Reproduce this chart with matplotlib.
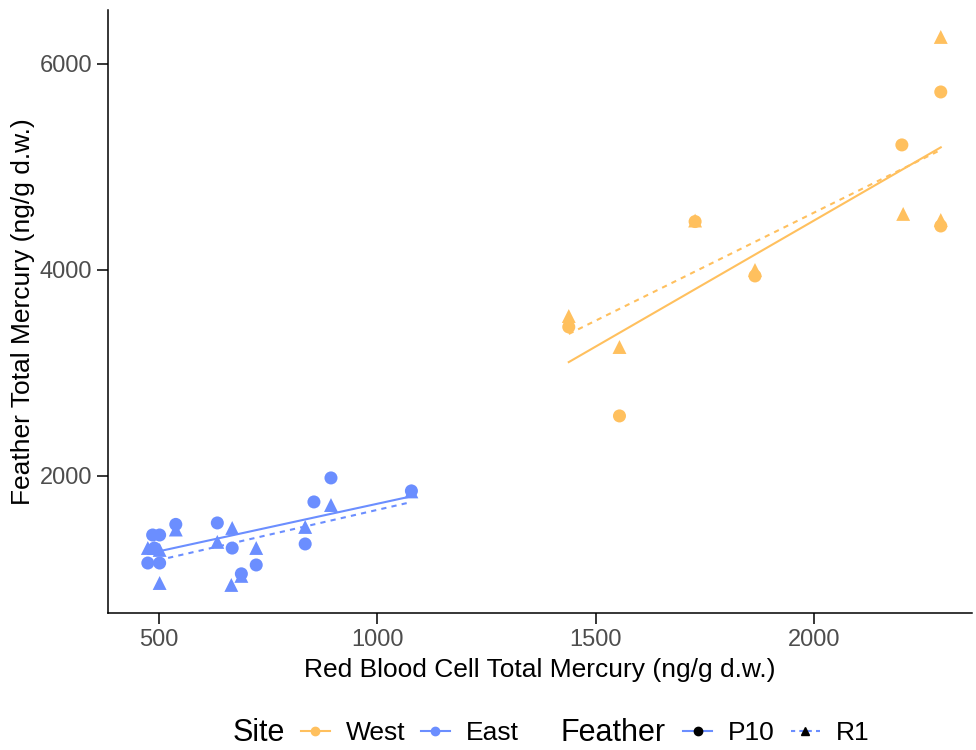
import numpy as np
import matplotlib.pyplot as plt
from matplotlib.lines import Line2D

plt.rcParams['font.family'] = ['Liberation Sans', 'DejaVu Sans']

# RBC total Hg (x) vs feather total Hg (y), by site and feather type
west_p10_x = [1438, 1554, 1727, 1864, 2200, 2289, 2289]
west_p10_y = [3447, 2583, 4470, 3942, 5214, 5728, 4427]
west_r1_x = [1438, 1554, 1727, 1864, 2203, 2289, 2289]
west_r1_y = [3553, 3252, 4480, 4000, 4544, 6262, 4485]

east_p10_x = [475, 486, 502, 502, 490, 539, 634, 668, 689, 723, 835, 855, 894, 1078]
east_p10_y = [1155, 1427, 1427, 1155, 1300, 1530, 1544, 1300, 1050, 1136, 1340, 1748, 1981, 1855]
east_r1_x = [475, 490, 502, 502, 539, 634, 668, 666, 689, 723, 835, 894, 1078]
east_r1_y = [1301, 1300, 1282, 961, 1480, 1360, 1495, 942, 1030, 1301, 1505, 1718, 1850]

west_col = '#FFC05E'
east_col = '#6B8EFF'

fig = plt.figure(figsize=(9.76, 7.5), dpi=100)
ax = fig.add_axes([0.1107, 0.1827, 0.885, 0.804])

groups = [
    (west_p10_x, west_p10_y, west_col, 'o', '-', 88),
    (west_r1_x, west_r1_y, west_col, '^', '--', 100),
    (east_p10_x, east_p10_y, east_col, 'o', '-', 88),
    (east_r1_x, east_r1_y, east_col, '^', '--', 100),
]

for gx, gy, col, mk, ls, s in groups:
    gx = np.array(gx); gy = np.array(gy)
    ax.scatter(gx, gy, s=s, marker=mk, color=col, edgecolors='none', zorder=3)
    b, a = np.polyfit(gx, gy, 1)
    xs = np.linspace(gx.min(), gx.max(), 50)
    ax.plot(xs, a + b * xs, color=col, ls=ls, lw=1.5,
            dashes=(2.5, 2.5) if ls == '--' else (None, None), zorder=2)

ax.set_xlim(384, 2360)
ax.set_ylim(670, 6524)
ax.set_xticks([500, 1000, 1500, 2000])
ax.set_yticks([2000, 4000, 6000])
for sp in ['top', 'right']:
    ax.spines[sp].set_visible(False)
for sp in ['left', 'bottom']:
    ax.spines[sp].set_linewidth(1.1)
ax.tick_params(length=8, width=1.1, labelsize=17, labelcolor='#4D4D4D', pad=3.5)
ax.set_xlabel('Red Blood Cell Total Mercury (ng/g d.w.)', fontsize=19, labelpad=5)
ax.set_ylabel('Feather Total Mercury (ng/g d.w.)', fontsize=19, labelpad=3)

# legends at bottom
fig.text(0.238, 0.0227, 'Site', fontsize=22, va='center')
site_h = [Line2D([], [], color=west_col, marker='o', ms=6, lw=1.5),
          Line2D([], [], color=east_col, marker='o', ms=6, lw=1.5)]
fig.legend(site_h, ['West', 'East'], loc='center left', bbox_to_anchor=(0.308, 0.0227),
           ncol=2, frameon=False, fontsize=19, handlelength=1.1, handletextpad=0.6,
           columnspacing=0.6, borderpad=0, borderaxespad=0)

fig.text(0.574, 0.0227, 'Feather', fontsize=22, va='center')
fea_h = [Line2D([], [], color=east_col, ls='-', lw=1.5, marker='o', ms=6,
                markerfacecolor='black', markeredgecolor='black'),
         Line2D([], [], color=east_col, ls='--', lw=1.5, dashes=(2, 2), marker='^', ms=6,
                markerfacecolor='black', markeredgecolor='black')]
fig.legend(fea_h, ['P10', 'R1'], loc='center left', bbox_to_anchor=(0.700, 0.0227),
           ncol=2, frameon=False, fontsize=19, handlelength=1.1, handletextpad=0.6,
           columnspacing=0.6, borderpad=0, borderaxespad=0)

fig.savefig('out.png', dpi=100)
